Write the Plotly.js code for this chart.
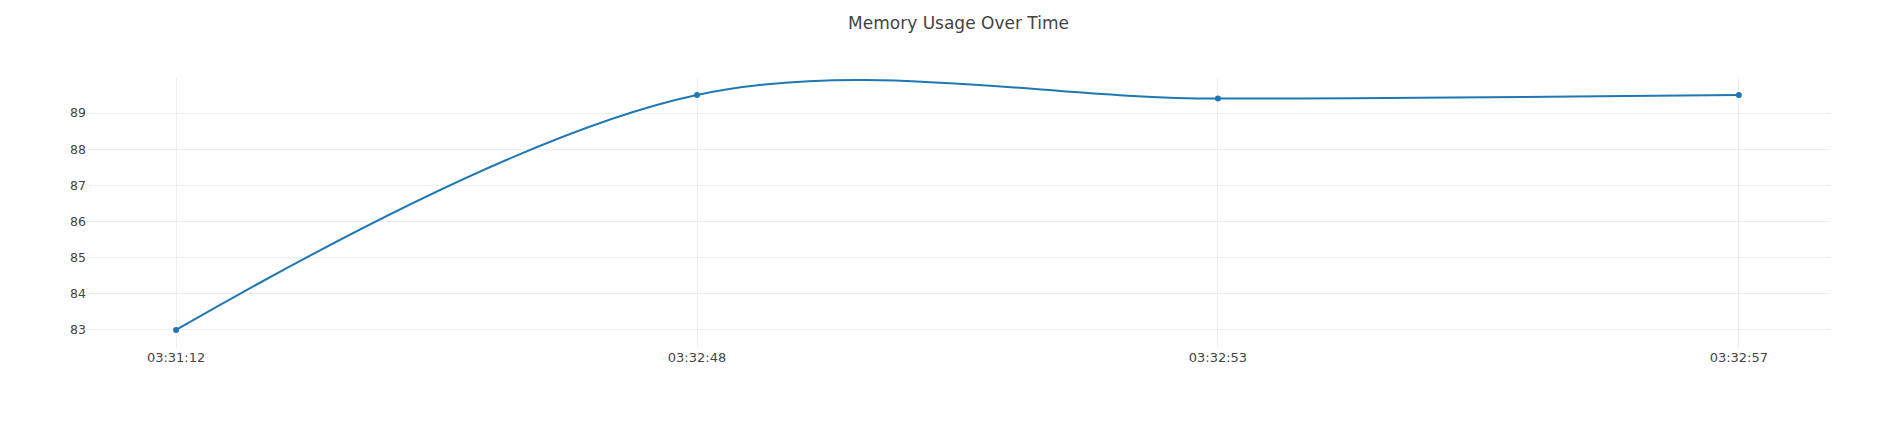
<!DOCTYPE html>
<html>
<head>
<meta charset="utf-8">
<script src="https://cdn.plot.ly/plotly-3.0.1.min.js"></script>
<style>html,body{margin:0;padding:0;background:#fff;}#chart{width:1885px;height:431px;}</style>
</head>
<body>
<div id="chart"></div>
<script>
const times = ["03:31:12", "03:32:48", "03:32:53", "03:32:57"];
const memoryUsage = [83.0, 89.5, 89.4, 89.5];
const yTicks = [83, 84, 85, 86, 87, 88, 89];

const trace = {
  x: times,
  y: memoryUsage,
  type: 'scatter',
  mode: 'lines+markers',
  line: {color: '#1f77b4', width: 2, shape: 'spline'},
  marker: {color: '#1f77b4', size: 6}
};

const layout = {
  width: 1885,
  height: 431,
  margin: {l: 87, r: 55, t: 78, b: 83},
  paper_bgcolor: '#fff',
  plot_bgcolor: '#fff',
  font: {family: 'DejaVu Sans, Verdana, sans-serif', size: 12, color: '#444'},
  title: {text: 'Memory Usage Over Time', x: 0.5, xref: 'paper', y: 0.947, yref: 'container', yanchor: 'middle', font: {size: 17, color: '#444'}},
  showlegend: false,
  xaxis: {
    type: 'category',
    range: [-0.171, 3.175],
    showgrid: true,
    gridcolor: '#eee',
    zeroline: false,
    showline: false,
    tickfont: {size: 13}
  },
  yaxis: {
    range: [82.5, 89.97],
    tickvals: yTicks,
    showgrid: true,
    gridcolor: '#eee',
    zeroline: false,
    showline: false,
    tickfont: {size: 12.5}
  }
};

Plotly.newPlot('chart', [trace], layout, {displayModeBar: false, staticPlot: true});
</script>
</body>
</html>
